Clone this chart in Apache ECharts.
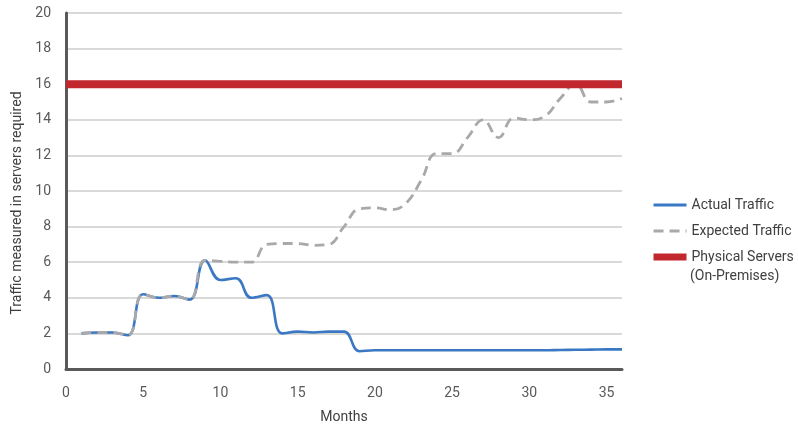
<!DOCTYPE html>
<html>
<head>
<meta charset="utf-8">
<style>
  html, body { margin: 0; padding: 0; background: #ffffff; overflow: hidden; }
  #chart { width: 798px; height: 429px; }
</style>
<script src="https://cdn.jsdelivr.net/npm/echarts@6/dist/echarts.min.js"></script>
</head>
<body>
<div id="chart"></div>
<script>
// Months 1..36
const months = [1,2,3,4,5,6,7,8,9,10,11,12,13,14,15,16,17,18,19,20,21,22,23,24,25,26,27,28,29,30,31,32,33,34,35,36];

// Servers needed by the traffic actually observed
const actualTraffic = [2.0,2.05,2.05,1.9,4.2,4.0,4.1,3.9,6.1,5.0,5.1,4.0,4.15,2.0,2.1,2.05,2.1,2.1,1.0,1.05,1.05,1.05,1.05,1.05,1.05,1.05,1.05,1.05,1.05,1.05,1.05,1.07,1.08,1.09,1.1,1.1];

// Servers needed by the traffic that was forecast
const expectedTraffic = [2.0,2.05,2.05,1.9,4.2,4.0,4.1,3.9,6.1,6.05,6.0,6.0,7.0,7.05,7.05,6.95,7.0,8.0,9.0,9.05,8.95,9.3,10.6,12.1,12.1,13.0,14.0,13.0,14.1,14.0,14.2,15.2,16.0,15.0,15.0,15.2];

// Fixed on-premises capacity, spanning the whole axis
const capacityMonths = [0, 36];
const capacityServers = [16, 16];

const yTicks = { min: 0, max: 20, interval: 2 };
const xTicks = { min: 0, max: 36, interval: 5 };

const pair = (xs, ys) => xs.map((x, i) => [x, ys[i]]);

const font = 'Roboto, "Liberation Sans", sans-serif';
const labelColor = '#595959';
const titleColor = '#404040';

const chart = echarts.init(document.getElementById('chart'), null, { renderer: 'canvas' });

chart.setOption({
  animation: false,
  backgroundColor: '#ffffff',
  textStyle: { fontFamily: font },
  grid: { left: 66, width: 556, top: 13, height: 360, containLabel: false },
  legend: {
    orient: 'vertical',
    left: 647,
    top: 191,
    itemWidth: 33,
    itemHeight: 7,
    itemGap: 8,
    lineStyle: { width: 3 },
    itemStyle: { opacity: 0 },
    textStyle: { fontFamily: font, fontSize: 14, color: titleColor, lineHeight: 18 },
    data: [
      { name: 'Actual Traffic' },
      { name: 'Expected Traffic' },
      {
        name: 'Physical Servers',
        icon: 'rect',
        itemStyle: { opacity: 1, color: '#c1272d' }
      }
    ]
  },
  // second line of the capacity legend entry
  graphic: [
    {
      type: 'text',
      left: 690,
      top: 269,
      style: { text: '(On-Premises)', font: '14px ' + font, fill: titleColor }
    }
  ],
  xAxis: {
    type: 'value',
    min: xTicks.min,
    max: xTicks.max,
    interval: xTicks.interval,
    name: 'Months',
    nameLocation: 'middle',
    nameGap: 41,
    nameTextStyle: { fontFamily: font, fontSize: 14, color: titleColor },
    axisLine: { show: true, lineStyle: { color: '#595959', width: 3 } },
    axisTick: { show: false },
    splitLine: { show: false },
    axisLabel: {
      margin: 17,
      fontFamily: font,
      fontSize: 14,
      color: labelColor,
      formatter: v => (v % 5 === 0 ? String(v) : '')
    }
  },
  yAxis: {
    type: 'value',
    min: yTicks.min,
    max: yTicks.max,
    interval: yTicks.interval,
    name: 'Traffic measured in servers required',
    nameLocation: 'middle',
    nameGap: 36,
    nameTextStyle: { fontFamily: font, fontSize: 14, color: titleColor, padding: [0, 24, 0, 0] },
    axisLine: { show: true, lineStyle: { color: '#595959', width: 3 } },
    axisTick: { show: false },
    splitLine: { show: true, lineStyle: { color: '#cccccc', width: 1.5 } },
    axisLabel: { margin: 15, fontFamily: font, fontSize: 14, color: labelColor }
  },
  series: [
    {
      name: 'Actual Traffic',
      type: 'line',
      data: pair(months, actualTraffic),
      smooth: 0.45,
      symbol: 'none',
      lineStyle: { color: '#3b78c3', width: 2.6 },
      itemStyle: { color: '#3b78c3', opacity: 0 },
      z: 2
    },
    {
      name: 'Expected Traffic',
      type: 'line',
      data: pair(months, expectedTraffic),
      smooth: 0.45,
      symbol: 'none',
      lineStyle: { color: '#a9a9ab', width: 2.8, type: [10, 6] },
      itemStyle: { color: '#a9a9ab', opacity: 0 },
      z: 3
    },
    {
      name: 'Physical Servers',
      type: 'line',
      data: pair(capacityMonths, capacityServers),
      symbol: 'none',
      lineStyle: { color: '#c1272d', width: 8 },
      itemStyle: { color: '#c1272d' },
      z: 4
    }
  ]
});
</script>
</body>
</html>
